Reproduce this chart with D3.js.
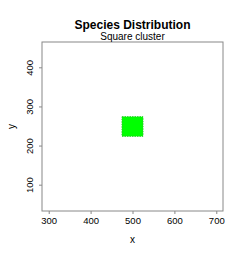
<!DOCTYPE html>
<html>
<head>
<meta charset="utf-8">
<script src="https://cdn.jsdelivr.net/npm/d3@7"></script>
<style>
  body { margin: 0; background: white; }
  text { font-family: "Liberation Sans", Arial, sans-serif; fill: #000; }
</style>
</head>
<body>
<div id="container"></div>
<script>
// Square cluster of species locations

const width = 249;
const height = 270;

const xTicks = [300, 400, 500, 600, 700];
const yTicks = [100, 200, 300, 400];
const xLimits = [300, 700];
const yLimits = [50, 450];
// the cluster covers this square
const clusterX = [475, 525];
const clusterY = [225, 275];

const margin = { left: 42, right: 26, top: 42, bottom: 59 };

const svg = d3.select("#container")
    .append("svg")
    .attr("width", width)
    .attr("height", height)
    .style("background-color", "white");

// R style 4% padding on the limits
const pad = (lim) => {
    const d = (lim[1] - lim[0]) * 0.04;
    return [lim[0] - d, lim[1] + d];
};

const x = d3.scaleLinear()
    .domain(pad(xLimits))
    .range([margin.left, width - margin.right]);

const y = d3.scaleLinear()
    .domain(pad(yLimits))
    .range([height - margin.bottom, margin.top]);

// cluster
svg.append("rect")
    .attr("x", x(clusterX[0]))
    .attr("y", y(clusterY[1]))
    .attr("width", x(clusterX[1]) - x(clusterX[0]))
    .attr("height", y(clusterY[0]) - y(clusterY[1]))
    .attr("fill", "#00ff00")
    .attr("stroke", "#1fcc1f")
    .attr("stroke-width", 1)
    .attr("stroke-dasharray", "1.5,1");

// axes
const xAxis = svg.append("g")
    .attr("transform", `translate(0, ${height - margin.bottom})`)
    .call(d3.axisBottom(x).tickValues(xTicks).tickSize(3).tickPadding(3));

const yAxis = svg.append("g")
    .attr("transform", `translate(${margin.left}, 0)`)
    .call(d3.axisLeft(y).tickValues(yTicks).tickSize(3).tickPadding(3));

[xAxis, yAxis].forEach(g => {
    g.select(".domain").remove();
    g.selectAll("line").attr("stroke", "#888");
    g.selectAll("text").style("font-size", "9.5px").attr("fill", "#000");
});

yAxis.selectAll("text")
    .attr("text-anchor", "middle")
    .attr("transform", d => `rotate(-90, -6, ${y(d)})`)
    .attr("x", -6)
    .attr("y", d => y(d))
    .attr("dy", "0.35em");

// fix rotated labels: rotate around their own position
yAxis.selectAll(".tick").each(function(d) {
    const t = d3.select(this);
    const ty = y(d);
    t.attr("transform", null);
    t.select("line").attr("y1", ty).attr("y2", ty);
    t.select("text")
        .attr("y", 0)
        .attr("x", 0)
        .attr("dy", 0)
        .attr("transform", `translate(-9, ${ty}) rotate(-90)`);
});

// plot box
svg.append("rect")
    .attr("x", margin.left)
    .attr("y", margin.top)
    .attr("width", width - margin.left - margin.right)
    .attr("height", height - margin.top - margin.bottom)
    .attr("fill", "none")
    .attr("stroke", "#888")
    .attr("stroke-width", 1);

// titles
svg.append("text")
    .attr("x", (margin.left + width - margin.right) / 2)
    .attr("y", 29)
    .attr("text-anchor", "middle")
    .style("font-size", "12px")
    .style("font-weight", "bold")
    .text("Species Distribution");

svg.append("text")
    .attr("x", (margin.left + width - margin.right) / 2)
    .attr("y", 40)
    .attr("text-anchor", "middle")
    .style("font-size", "10px")
    .text("Square cluster");

svg.append("text")
    .attr("x", (margin.left + width - margin.right) / 2)
    .attr("y", 243)
    .attr("text-anchor", "middle")
    .style("font-size", "10px")
    .text("x");

svg.append("text")
    .attr("transform", `translate(15, ${(margin.top + height - margin.bottom) / 2}) rotate(-90)`)
    .attr("text-anchor", "middle")
    .style("font-size", "10px")
    .text("y");
</script>
</body>
</html>
